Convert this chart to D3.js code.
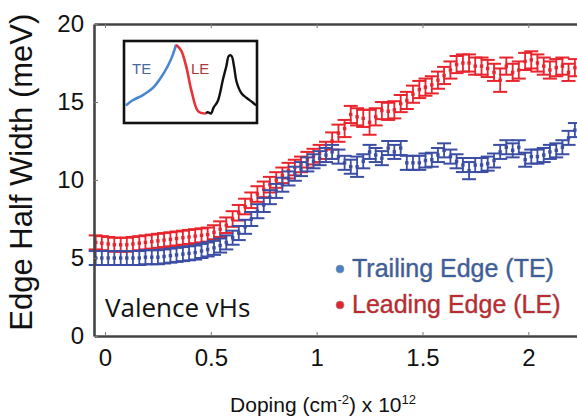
<!DOCTYPE html>
<html>
<head>
<meta charset="utf-8">
<script src="https://cdn.jsdelivr.net/npm/d3@7"></script>
<style>
  html, body { margin: 0; padding: 0; background: #fff; }
  svg { display: block; }
</style>
</head>
<body>
<svg id="chart" width="577" height="419"></svg>
<script>
// ---------- data ----------
const doping = [
  -0.044, -0.015, 0.015, 0.044, 0.074, 0.103, 0.132, 0.162, 0.191, 0.221,
  0.250, 0.279, 0.309, 0.338, 0.368, 0.397, 0.426, 0.456, 0.485, 0.515,
  0.544, 0.573, 0.603, 0.632, 0.662, 0.691, 0.720, 0.750, 0.779, 0.809,
  0.838, 0.867, 0.897, 0.926, 0.956, 0.985, 1.014, 1.044, 1.073, 1.103,
  1.132, 1.161, 1.191, 1.220, 1.250, 1.279, 1.308, 1.338, 1.367, 1.397,
  1.426, 1.455, 1.485, 1.514, 1.544, 1.573, 1.602, 1.632, 1.661, 1.691,
  1.720, 1.749, 1.779, 1.808, 1.838, 1.867, 1.896, 1.926, 1.955, 1.985,
  2.014, 2.043, 2.073, 2.102, 2.132, 2.161, 2.190, 2.220
];
const leadingEdge = [
  6.00, 5.95, 5.90, 5.85, 5.85, 5.85, 5.90, 5.95, 6.00, 6.05,
  6.10, 6.15, 6.20, 6.25, 6.30, 6.35, 6.40, 6.45, 6.50, 6.65,
  6.85, 7.10, 7.50, 7.90, 8.30, 8.70, 9.10, 9.40, 9.70, 10.00,
  10.30, 10.60, 10.80, 11.00, 11.30, 11.50, 11.70, 11.90, 12.50, 13.00,
  13.30, 14.20, 14.05, 13.95, 13.70, 14.05, 14.45, 14.40, 14.50, 14.90,
  15.10, 15.50, 15.80, 15.95, 16.10, 16.40, 16.70, 17.05, 17.40, 17.50,
  17.50, 17.30, 17.30, 17.15, 16.90, 16.40, 17.30, 16.90, 17.05, 17.60,
  17.70, 17.50, 17.30, 17.05, 17.20, 17.30, 16.90, 17.20
];
const leadingErr = [
  0.45, 0.45, 0.45, 0.45, 0.45, 0.45, 0.45, 0.45, 0.45, 0.45,
  0.45, 0.45, 0.45, 0.45, 0.45, 0.45, 0.45, 0.45, 0.45, 0.45,
  0.50, 0.50, 0.50, 0.50, 0.50, 0.50, 0.50, 0.50, 0.50, 0.50,
  0.50, 0.50, 0.50, 0.50, 0.50, 0.50, 0.55, 0.55, 0.55, 0.55,
  0.55, 0.55, 0.55, 0.55, 0.80, 0.55, 0.55, 0.55, 0.55, 0.55,
  0.55, 0.55, 0.55, 0.55, 0.55, 0.55, 0.55, 0.55, 0.55, 0.55,
  0.55, 0.55, 0.55, 0.55, 0.55, 0.75, 0.55, 0.55, 0.55, 0.55,
  0.55, 0.55, 0.55, 0.55, 0.55, 0.55, 0.55, 0.55
];
const trailingEdge = [
  5.00, 5.00, 5.00, 5.00, 5.00, 5.00, 5.00, 5.00, 5.05, 5.05,
  5.05, 5.10, 5.15, 5.20, 5.25, 5.30, 5.35, 5.45, 5.55, 5.65,
  5.80, 6.00, 6.30, 6.60, 7.00, 7.50, 8.00, 8.40, 8.90, 9.30,
  9.70, 10.10, 10.40, 10.70, 11.00, 11.20, 11.40, 11.60, 11.80, 11.50,
  11.10, 10.85, 10.85, 11.20, 11.80, 11.60, 11.40, 12.05, 11.80, 12.05,
  11.10, 11.10, 11.10, 11.25, 11.30, 11.60, 11.90, 11.50, 11.20, 10.96,
  10.60, 10.96, 10.96, 11.05, 11.25, 11.80, 12.10, 11.90, 12.10, 11.30,
  11.50, 11.50, 11.60, 11.80, 11.90, 12.10, 12.70, 13.20
];
const trailingErr = [
  0.45, 0.45, 0.45, 0.45, 0.45, 0.45, 0.45, 0.45, 0.45, 0.45,
  0.45, 0.45, 0.45, 0.45, 0.45, 0.45, 0.45, 0.45, 0.45, 0.45,
  0.45, 0.45, 0.45, 0.45, 0.45, 0.45, 0.45, 0.45, 0.45, 0.45,
  0.45, 0.45, 0.45, 0.45, 0.45, 0.45, 0.45, 0.45, 0.45, 0.45,
  0.45, 0.45, 0.65, 0.45, 0.45, 0.45, 0.45, 0.45, 0.45, 0.45,
  0.45, 0.45, 0.45, 0.45, 0.45, 0.45, 0.45, 0.45, 0.45, 0.45,
  0.55, 0.45, 0.45, 0.45, 0.45, 0.45, 0.45, 0.45, 0.45, 0.45,
  0.45, 0.45, 0.45, 0.45, 0.45, 0.45, 0.45, 0.45
];
const xTicks = [0, 0.5, 1, 1.5, 2];
const xTickLabels = ["0", "0.5", "1", "1.5", "2"];
const yTicks = [0, 5, 10, 15, 20];
const yTickLabels = ["0", "5", "10", "15", "20"];

// inset sketch of a spectrum (arbitrary units: energy 0..155, intensity 0..100)
const insetTE = [[1, 17], [9, 24], [21, 31], [33, 41], [43, 56], [51, 72], [56, 85], [60, 99]];
const insetLE = [[60, 99], [66, 91], [72, 69], [78, 37], [86, 9], [95, 6]];
const insetPeak = [[95, 6], [97, 8], [101, 6], [104, 14], [109, 23], [115, 52], [119, 70], [122, 84], [125, 84], [128, 70], [131, 49], [137, 33], [143, 27], [150, 21], [154, 17]];

// ---------- layout ----------
const svg = d3.select("#chart");
const xs = d3.scaleLinear().domain([-0.052, 2.23]).range([94, 577]);
const ys = d3.scaleLinear().domain([0, 20]).range([336, 24]);

const RED = "#e8242c";
const BLUE = "#3b4ea3";

// ---------- error bars ----------
function drawSeries(vals, errs, color) {
  const g = svg.append("g");
  const data = doping.map((d, i) => ({ x: d, v: vals[i], e: errs[i] }));
  const cw = 7;
  g.selectAll("line.v").data(data).join("line").attr("class", "v")
    .attr("x1", d => xs(d.x)).attr("x2", d => xs(d.x))
    .attr("y1", d => ys(d.v - d.e)).attr("y2", d => ys(d.v + d.e))
    .attr("stroke", color).attr("stroke-width", 1.8);
  g.selectAll("line.t").data(data).join("line").attr("class", "t")
    .attr("x1", d => xs(d.x) - cw).attr("x2", d => xs(d.x) + cw)
    .attr("y1", d => ys(d.v + d.e)).attr("y2", d => ys(d.v + d.e))
    .attr("stroke", color).attr("stroke-width", 2);
  g.selectAll("line.b").data(data).join("line").attr("class", "b")
    .attr("x1", d => xs(d.x) - cw).attr("x2", d => xs(d.x) + cw)
    .attr("y1", d => ys(d.v - d.e)).attr("y2", d => ys(d.v - d.e))
    .attr("stroke", color).attr("stroke-width", 2);
  g.selectAll("rect.p").data(data).join("rect").attr("class", "p")
    .attr("x", d => xs(d.x) - 1.7).attr("y", d => ys(d.v) - 1.7)
    .attr("width", 3.4).attr("height", 3.4).attr("fill", color);
}
drawSeries(leadingEdge, leadingErr, RED);
drawSeries(trailingEdge, trailingErr, BLUE);

// ---------- axes ----------
const axisColor = "#444";
const axBottom = svg.append("g").attr("transform", `translate(0,${ys(0)})`)
  .call(d3.axisBottom(xs).tickValues(xTicks).tickFormat((d, i) => xTickLabels[i])
    .tickSizeInner(-4).tickSizeOuter(0).tickPadding(10));
const axTop = svg.append("g").attr("transform", `translate(0,${ys(20)})`)
  .call(d3.axisTop(xs).tickValues(xTicks).tickFormat("")
    .tickSizeInner(-4).tickSizeOuter(0));
const axLeft = svg.append("g").attr("transform", `translate(${xs.range()[0]},0)`)
  .call(d3.axisLeft(ys).tickValues(yTicks).tickFormat((d, i) => yTickLabels[i])
    .tickSizeInner(-4).tickSizeOuter(0).tickPadding(10));

[axBottom, axTop, axLeft].forEach(g => {
  g.select(".domain").attr("stroke", axisColor).attr("stroke-width", 2.6);
  g.selectAll(".tick line").attr("stroke", "#777").attr("stroke-width", 1);
  g.selectAll(".tick text")
    .attr("font-family", "'Liberation Sans', Arial, sans-serif")
    .attr("font-size", 24).attr("fill", "#111");
});
axBottom.selectAll(".tick text").attr("y", 13);
axLeft.selectAll(".tick text").attr("x", -10);

// axis titles
svg.append("text")
  .attr("transform", `translate(32,${ys(10.5)}) rotate(-90)`)
  .attr("text-anchor", "middle")
  .attr("font-family", "'Liberation Sans', Arial, sans-serif")
  .attr("font-size", 31).attr("fill", "#111")
  .text("Edge Half Width (meV)");

const xt = svg.append("text")
  .attr("x", xs(1.03)).attr("y", 412)
  .attr("text-anchor", "middle")
  .attr("font-family", "'Liberation Sans', Arial, sans-serif")
  .attr("font-size", 21).attr("fill", "#111");
xt.append("tspan").text("Doping (cm");
xt.append("tspan").attr("font-size", 13).attr("dy", -8).text("-2");
xt.append("tspan").attr("dy", 8).text(") x 10");
xt.append("tspan").attr("font-size", 13).attr("dy", -8).text("12");

// annotation
svg.append("text")
  .attr("x", 105).attr("y", 317)
  .attr("font-family", "'Open Sans', 'Liberation Sans', sans-serif")
  .attr("font-size", 26).attr("fill", "#111")
  .text("Valence vHs");

// legend
const legend = [
  { label: "Trailing Edge (TE)", dot: "#4a7fc4", text: "#3c5f9c", yb: 277, yc: 269 },
  { label: "Leading Edge (LE)", dot: "#e4242c", text: "#bf2a2e", yb: 313, yc: 305 }
];
const lg = svg.append("g");
legend.forEach(l => {
  lg.append("circle").attr("cx", 340).attr("cy", l.yc).attr("r", 4)
    .attr("fill", l.dot).attr("stroke", "#999").attr("stroke-width", 0.6);
  lg.append("text").attr("x", 352).attr("y", l.yb)
    .attr("font-family", "'Liberation Sans', Arial, sans-serif")
    .attr("font-size", 25).attr("fill", l.text)
    .attr("stroke", "#9a9a9a").attr("stroke-width", 0.6).attr("paint-order", "stroke")
    .text(l.label);
});

// ---------- inset ----------
const ix = d3.scaleLinear().domain([0, 155]).range([125, 257]);
const iy = d3.scaleLinear().domain([0, 100]).range([118, 44]);
const line = d3.line().x(d => ix(d[0])).y(d => iy(d[1])).curve(d3.curveCatmullRom);
const inset = svg.append("g");
inset.append("rect").attr("x", 124).attr("y", 41).attr("width", 133).attr("height", 82)
  .attr("fill", "#fff").attr("stroke", "#111").attr("stroke-width", 2.6);
inset.append("path").attr("d", line(insetPeak)).attr("fill", "none").attr("stroke", "#111").attr("stroke-width", 2.4);
inset.append("path").attr("d", line(insetTE)).attr("fill", "none").attr("stroke", "#4a86cf").attr("stroke-width", 2.6);
inset.append("path").attr("d", line(insetLE)).attr("fill", "none").attr("stroke", "#e8323a").attr("stroke-width", 2.6);
inset.append("text").attr("x", 132).attr("y", 74)
  .attr("font-family", "'Liberation Sans', Arial, sans-serif").attr("font-size", 15)
  .attr("fill", "#4a6a9c").text("TE");
inset.append("text").attr("x", 191).attr("y", 74)
  .attr("font-family", "'Liberation Sans', Arial, sans-serif").attr("font-size", 15)
  .attr("fill", "#a83a3a").text("LE");
</script>
</body>
</html>
